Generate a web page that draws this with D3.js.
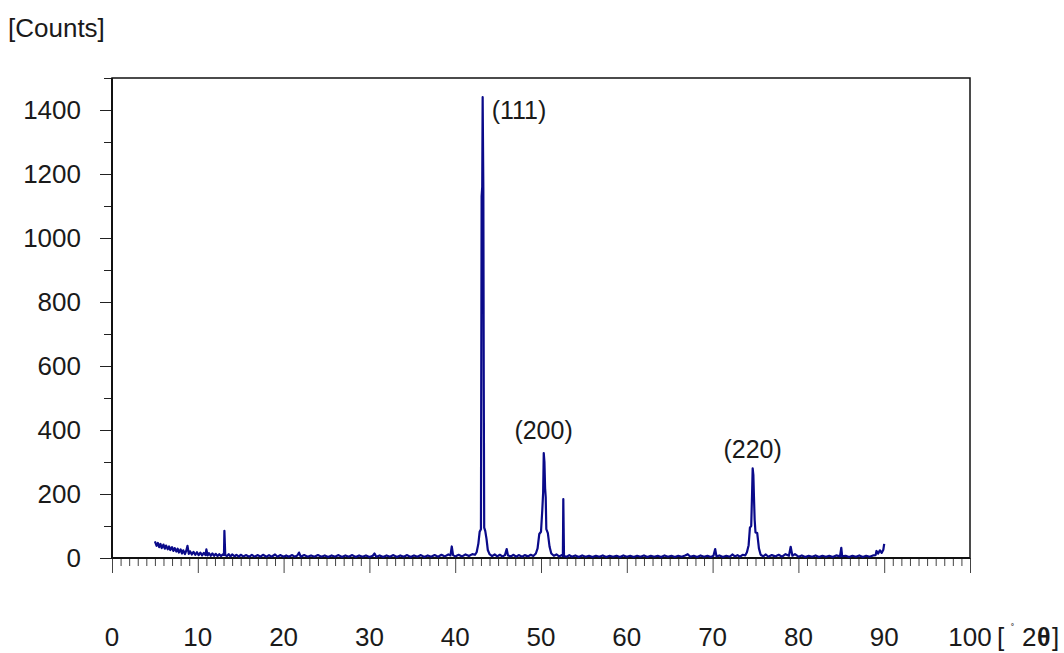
<!DOCTYPE html>
<html>
<head>
<meta charset="utf-8">
<script src="https://cdn.jsdelivr.net/npm/d3@7"></script>
<style>
  body { margin: 0; background: #fff; }
  text { font-family: "Liberation Sans", Arial, sans-serif; fill: #1a1a1a; }
</style>
</head>
<body>
<div id="chart"></div>
<script>
// XRD pattern, [2theta, counts]
var pattern = [
  [5.0, 52], [5.2, 38], [5.35, 47], [5.5, 34], [5.65, 44], [5.8, 31], [6.0, 42], [6.15, 29], [6.3, 39], [6.5, 27],
  [6.65, 36], [6.8, 25], [7.0, 34], [7.15, 22], [7.3, 31], [7.5, 20], [7.65, 29], [7.8, 17], [8.0, 27], [8.15, 14],
  [8.3, 24], [8.5, 12], [8.65, 22], [8.8, 38], [8.95, 13], [9.1, 21], [9.3, 11], [9.5, 19], [9.7, 10], [9.9, 18],
  [10.1, 9], [10.3, 17], [10.5, 8], [10.7, 16], [10.9, 9], [11.0, 27], [11.15, 8], [11.3, 15], [11.5, 7], [11.7, 14],
  [11.9, 7], [12.1, 13], [12.3, 6], [12.5, 12], [12.7, 6], [12.9, 11], [13.05, 9], [13.1, 85], [13.2, 9], [13.4, 6],
  [13.6, 12], [13.8, 5], [14.0, 11], [14.3, 5], [14.5, 10], [14.8, 4], [15.0, 10], [15.3, 5], [15.6, 9], [16.0, 4],
  [16.3, 10], [16.6, 4], [17.0, 9], [17.3, 4], [17.6, 10], [18.0, 4], [18.3, 9], [18.6, 4], [19.0, 11], [19.3, 4],
  [19.6, 9], [20.0, 4], [20.3, 8], [20.6, 4], [21.0, 9], [21.3, 4], [21.6, 8], [21.8, 17], [22.0, 4], [22.4, 9],
  [22.8, 4], [23.2, 8], [23.6, 4], [24.0, 9], [24.4, 4], [24.8, 8], [25.2, 3], [25.6, 8], [26.0, 4], [26.4, 9],
  [26.8, 3], [27.2, 8], [27.6, 4], [28.0, 9], [28.4, 3], [28.8, 8], [29.2, 4], [29.6, 8], [30.0, 3], [30.4, 7],
  [30.6, 14], [30.8, 4], [31.2, 8], [31.6, 3], [32.0, 8], [32.4, 4], [32.8, 9], [33.2, 3], [33.6, 8], [34.0, 4],
  [34.4, 9], [34.8, 3], [35.2, 8], [35.6, 4], [36.0, 9], [36.4, 3], [36.8, 8], [37.2, 4], [37.6, 9], [38.0, 4],
  [38.4, 10], [38.8, 5], [39.2, 11], [39.45, 8], [39.6, 36], [39.75, 9], [40.0, 5], [40.4, 10], [40.8, 5], [41.2, 11],
  [41.6, 6], [42.0, 12], [42.3, 10], [42.5, 18], [42.7, 45], [42.85, 82], [43.0, 90], [43.08, 1130], [43.15, 1160], [43.2, 1440],
  [43.28, 1150], [43.33, 530], [43.38, 95], [43.5, 85], [43.65, 60], [43.8, 25], [44.0, 12], [44.3, 6], [44.6, 11], [44.9, 5],
  [45.2, 10], [45.5, 5], [45.8, 9], [46.0, 28], [46.15, 8], [46.5, 5], [46.8, 10], [47.1, 4], [47.4, 9], [47.8, 4],
  [48.1, 9], [48.5, 5], [48.8, 10], [49.1, 6], [49.4, 14], [49.6, 30], [49.8, 75], [50.0, 82], [50.15, 150], [50.25, 205],
  [50.32, 328], [50.4, 300], [50.48, 218], [50.55, 190], [50.62, 90], [50.8, 78], [51.0, 35], [51.2, 14], [51.5, 7], [51.8, 11],
  [52.1, 5], [52.4, 9], [52.55, 6], [52.6, 184], [52.68, 6], [53.0, 4], [53.3, 9], [53.6, 4], [54.0, 8], [54.4, 3],
  [54.8, 8], [55.2, 4], [55.6, 7], [56.0, 3], [56.4, 7], [56.8, 4], [57.2, 8], [57.6, 3], [58.0, 7], [58.4, 4],
  [58.8, 7], [59.2, 3], [59.6, 8], [60.0, 4], [60.4, 7], [60.8, 3], [61.2, 7], [61.6, 4], [62.0, 8], [62.4, 3],
  [62.8, 7], [63.2, 4], [63.6, 7], [64.0, 3], [64.4, 8], [64.8, 4], [65.2, 7], [65.6, 3], [66.0, 7], [66.4, 4],
  [66.8, 8], [67.1, 12], [67.4, 4], [67.8, 7], [68.2, 3], [68.6, 8], [69.0, 4], [69.4, 7], [69.8, 3], [70.1, 7],
  [70.3, 28], [70.45, 5], [70.8, 8], [71.2, 3], [71.6, 7], [72.0, 4], [72.3, 11], [72.6, 5], [72.9, 9], [73.2, 4],
  [73.5, 10], [73.8, 8], [74.0, 18], [74.2, 40], [74.35, 95], [74.5, 100], [74.6, 200], [74.67, 280], [74.75, 260], [74.82, 191],
  [74.9, 120], [75.0, 80], [75.2, 78], [75.4, 30], [75.6, 10], [75.9, 5], [76.2, 11], [76.5, 4], [76.9, 9], [77.3, 5],
  [77.7, 10], [78.1, 4], [78.5, 12], [78.9, 7], [79.1, 35], [79.3, 7], [79.6, 12], [80.0, 4], [80.4, 8], [80.8, 3],
  [81.2, 7], [81.6, 4], [82.0, 8], [82.4, 3], [82.8, 7], [83.2, 4], [83.6, 7], [84.0, 3], [84.4, 8], [84.85, 5],
  [85.0, 32], [85.1, 5], [85.5, 7], [85.9, 3], [86.3, 7], [86.7, 4], [87.1, 8], [87.5, 3], [87.9, 7], [88.3, 4],
  [88.7, 8], [89.0, 9], [89.1, 22], [89.3, 14], [89.5, 24], [89.7, 16], [89.9, 26], [90.0, 44]
];

var peakLabels = [
  { text: "(111)", x: 43.2, y: 1400, anchor: "start", dx: 9 },
  { text: "(200)", x: 50.3, y: 400, anchor: "middle", dx: 0 },
  { text: "(220)", x: 74.67, y: 340, anchor: "middle", dx: 0 }
];

var yMajorTicks = [0, 200, 400, 600, 800, 1000, 1200, 1400];
var xMajorTicks = [0, 10, 20, 30, 40, 50, 60, 70, 80, 90, 100];

var svgWidth = 1064;
var svgHeight = 653;
var margin = { top: 78, right: 94, bottom: 95, left: 112 };
var width = svgWidth - margin.left - margin.right;
var height = svgHeight - margin.top - margin.bottom;

var svg = d3.select("#chart")
  .append("svg")
  .attr("width", svgWidth)
  .attr("height", svgHeight);

var chartGroup = svg.append("g")
  .attr("transform", `translate(${margin.left}, ${margin.top})`);

var xScale = d3.scaleLinear().domain([0, 100]).range([0, width]);
var yScale = d3.scaleLinear().domain([0, 1500]).range([height, 0]);

// x ticks every degree, longer every ten
var xAxis = d3.axisBottom(xScale)
  .tickValues(d3.range(0, 101, 1))
  .tickSize(8)
  .tickFormat("");
var xAxisG = chartGroup.append("g")
  .attr("transform", `translate(0, ${height})`)
  .call(xAxis);
xAxisG.selectAll(".tick line")
  .attr("stroke", "#444")
  .attr("y2", d => d % 10 === 0 ? 15 : 8);
xAxisG.select(".domain").remove();

// y ticks every 100, longer every 200
var yAxis = d3.axisLeft(yScale)
  .tickValues(d3.range(0, 1501, 100))
  .tickSize(8)
  .tickFormat("");
var yAxisG = chartGroup.append("g").call(yAxis);
yAxisG.selectAll(".tick line")
  .attr("stroke", "#222")
  .attr("x2", d => d % 200 === 0 ? -12 : -8);
yAxisG.select(".domain").remove();

// frame
chartGroup.append("rect")
  .attr("width", width)
  .attr("height", height)
  .attr("fill", "none")
  .attr("stroke", "#111")
  .attr("stroke-width", 1.5);
chartGroup.append("line")
  .attr("x1", 0).attr("x2", 0).attr("y1", 0).attr("y2", height)
  .attr("stroke", "#111").attr("stroke-width", 2);
chartGroup.append("line")
  .attr("x1", 0).attr("x2", width).attr("y1", height).attr("y2", height)
  .attr("stroke", "#111").attr("stroke-width", 2);

// tick labels
chartGroup.selectAll(".ylab")
  .data(yMajorTicks)
  .enter()
  .append("text")
  .attr("x", -31)
  .attr("y", d => yScale(d) + 9)
  .attr("text-anchor", "end")
  .style("font-size", "26px")
  .text(d => d);

chartGroup.selectAll(".xlab")
  .data(xMajorTicks)
  .enter()
  .append("text")
  .attr("x", d => xScale(d))
  .attr("y", height + 88)
  .attr("text-anchor", "middle")
  .style("font-size", "26px")
  .text(d => d);

// the pattern
var line = d3.line()
  .x(d => xScale(d[0]))
  .y(d => yScale(d[1]));

chartGroup.append("path")
  .datum(pattern)
  .attr("d", line)
  .attr("fill", "none")
  .attr("stroke", "#0a0a8a")
  .attr("stroke-width", 2.2)
  .attr("stroke-linejoin", "round");

// peak labels
chartGroup.selectAll(".peak")
  .data(peakLabels)
  .enter()
  .append("text")
  .attr("x", d => xScale(d.x) + d.dx)
  .attr("y", d => yScale(d.y) + 9)
  .attr("text-anchor", d => d.anchor)
  .style("font-size", "25px")
  .text(d => d.text);

// axis titles
svg.append("text")
  .attr("x", 8)
  .attr("y", 37)
  .style("font-size", "26px")
  .text("[Counts]");

// unit label "[˚ 2θ]" placed piece by piece
svg.append("text").attr("x", 997).attr("y", 646).style("font-size", "26px").text("[");
svg.append("text").attr("x", 1011).attr("y", 632).style("font-size", "10px").text("˚");
svg.append("text").attr("x", 1022).attr("y", 646).style("font-size", "26px").text("2");
svg.append("text").attr("x", 1037).attr("y", 646).style("font-size", "25px").style("font-weight", "bold").text("θ");
svg.append("text").attr("x", 1052).attr("y", 646).style("font-size", "26px").text("]");
</script>
</body>
</html>
